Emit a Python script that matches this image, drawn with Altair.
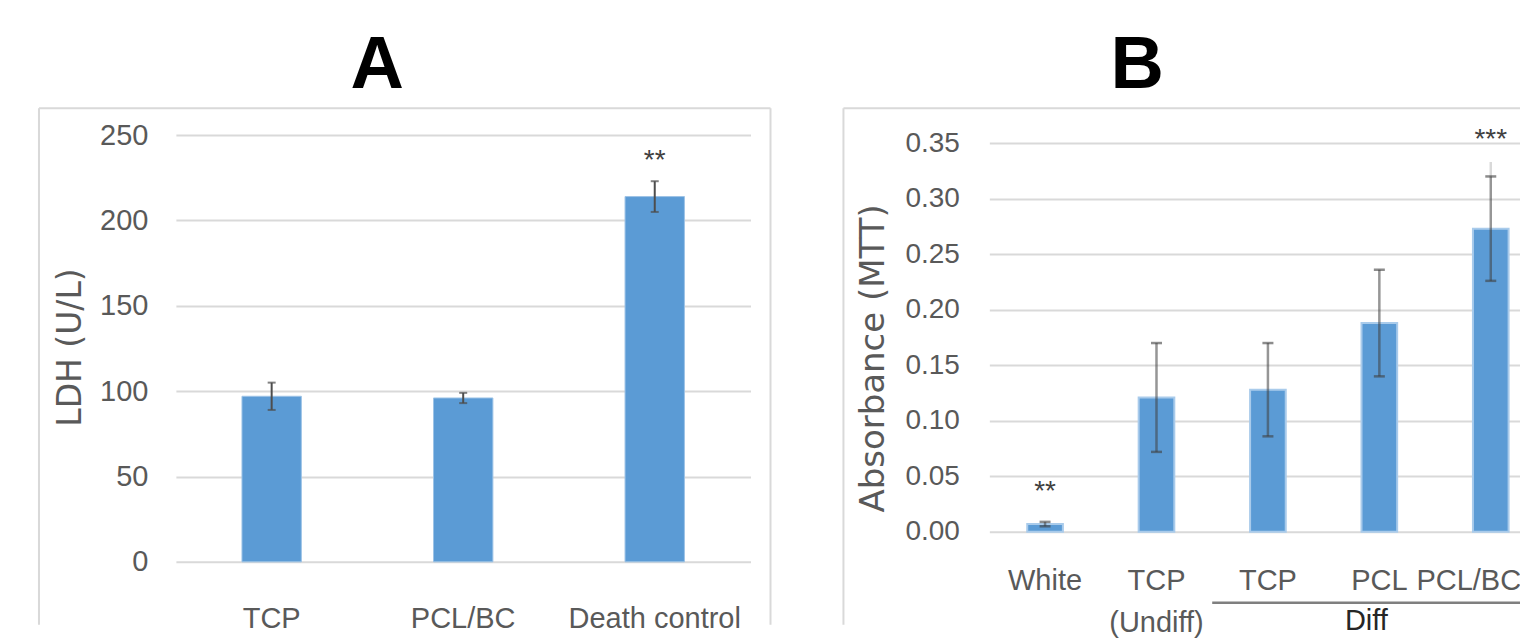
import altair as alt
import pandas as pd

# ---------------- data ----------------
# Panel A: LDH release
a_cats = ["TCP", "PCL/BC", "Death control"]
a_vals = [97, 96, 214]
a_err = [8, 3, 9]
a_sig_cats = ["Death control"]
a_sig_text = ["**"]
a_sig_pos = [235]

# Panel B: MTT absorbance
b_cats = ["White", "TCP (Undiff)", "TCP", "PCL", "PCL/BC"]
b_vals = [0.007, 0.121, 0.128, 0.188, 0.273]
b_err = [0.002, 0.049, 0.042, 0.048, 0.047]
b_sig_cats = ["White", "PCL/BC"]
b_sig_text = ["**", "***"]
b_sig_pos = [0.036, 0.353]
b_ghost_cat = ["PCL/BC"]
b_ghost_lo = [0.320]
b_ghost_hi = [0.333]

BLUE = "#5B9BD5"
GRID = "#d9d9d9"
TXT = "#595959"
LABEL_FONT = "Liberation Sans"
TITLE_FONT = "DejaVu Sans"

dfA = pd.DataFrame({"cat": a_cats, "val": a_vals,
                    "lo": [v - e for v, e in zip(a_vals, a_err)],
                    "hi": [v + e for v, e in zip(a_vals, a_err)]})
dfAs = pd.DataFrame({"cat": a_sig_cats, "txt": a_sig_text, "pos": a_sig_pos})
dfB = pd.DataFrame({"cat": b_cats, "val": b_vals,
                    "lo": [v - e for v, e in zip(b_vals, b_err)],
                    "hi": [v + e for v, e in zip(b_vals, b_err)]})
dfBs = pd.DataFrame({"cat": b_sig_cats, "txt": b_sig_text, "pos": b_sig_pos})
dfBg = pd.DataFrame({"cat": b_ghost_cat, "lo": b_ghost_lo, "hi": b_ghost_hi})
dfBd = pd.DataFrame({"cat": ["TCP"]})
dfPCL = pd.DataFrame({"cat": ["PCL"], "lbl": ["Diff"]})
one = pd.DataFrame({"d": [0]})

frame_kw = dict(color=GRID, strokeWidth=2)

# ---------------- panel A ----------------
WA, HA = 575, 427
xA_scale = alt.Scale(domain=a_cats, paddingInner=0, paddingOuter=0)
yA_scale = alt.Scale(domain=[0, 250], nice=False)
xA_axis = alt.Axis(labelAngle=0, domain=False, ticks=False, labelLimit=400,
                   labelFont=LABEL_FONT, labelFontSize=29, labelColor=TXT,
                   labelPadding=43)
yA_axis = alt.Axis(values=[0, 50, 100, 150, 200, 250], domain=False, ticks=False,
                   grid=True, gridColor=GRID, gridWidth=2,
                   labelFont=LABEL_FONT, labelFontSize=29, labelColor=TXT,
                   labelPadding=28, titleFont=TITLE_FONT, titleFontSize=33,
                   titleColor=TXT, titleFontWeight="normal",
                   titleX=-105, titleY=212, titleBaseline="middle")


def xa():
    return alt.X("cat:N", sort=a_cats, scale=xA_scale, axis=xA_axis, title=None)


def ya(field):
    return alt.Y(field, scale=yA_scale, axis=yA_axis, title="LDH (U/L)")


barsA = alt.Chart(dfA).mark_bar(color=BLUE, width=alt.RelativeBandSize(0.31),
                                stroke="#9dc3e6", strokeWidth=1).encode(x=xa(), y=ya("val:Q"))
errA = alt.Chart(dfA).mark_rule(color="#4d4d4d", strokeWidth=2).encode(
    x=xa(), y=ya("lo:Q"), y2="hi:Q")
capLoA = alt.Chart(dfA).mark_tick(color="#4d4d4d", size=8, thickness=2).encode(
    x=xa(), y=ya("lo:Q"))
capHiA = alt.Chart(dfA).mark_tick(color="#4d4d4d", size=8, thickness=2).encode(
    x=xa(), y=ya("hi:Q"))
sigA = alt.Chart(dfAs).mark_text(font="Liberation Sans", fontSize=28, color="#404040",
                                 baseline="middle").encode(
    x=xa(), y=ya("pos:Q"), text="txt:N")
frameA = (
    alt.Chart(one).mark_rule(**frame_kw).encode(x=alt.value(-137), y=alt.value(-27), y2=alt.value(490))
    + alt.Chart(one).mark_rule(**frame_kw).encode(x=alt.value(-137), x2=alt.value(595), y=alt.value(-27))
    + alt.Chart(one).mark_rule(**frame_kw).encode(x=alt.value(595), y=alt.value(-27), y2=alt.value(490))
)

panelA = alt.layer(barsA, errA, capLoA, capHiA, sigA, frameA).properties(
    width=WA, height=HA,
    title=alt.TitleParams("A", font="Liberation Sans", fontSize=74, fontWeight="bold",
                          color="black", anchor="middle", frame="group", dx=-86, offset=3))

# ---------------- panel B ----------------
WB, HB = 532, 397
xB_scale = alt.Scale(domain=b_cats, paddingInner=0, paddingOuter=0, range=[0, 557.5])
yB_scale = alt.Scale(domain=[0, 0.35], nice=False, range=[397, 8])
xB_axis = alt.Axis(labelAngle=0, domain=False, ticks=False, labelLimit=400,
                   labelFont=LABEL_FONT, labelFontSize=29, labelColor=TXT,
                   labelPadding=35, labelLineHeight=42,
                   labelOffset={"condition": {"test": "datum.value == 'PCL/BC'", "value": -22},
                                "value": 0},
                   labelExpr="datum.value == 'TCP (Undiff)' ? ['TCP', '(Undiff)'] : datum.value")
yB_axis = alt.Axis(values=[0, 0.05, 0.10, 0.15, 0.20, 0.25, 0.30, 0.35], format=".2f",
                   domain=False, ticks=False,
                   grid=True, gridColor=GRID, gridWidth=2,
                   labelFont=LABEL_FONT, labelFontSize=28, labelColor=TXT,
                   labelPadding=30, titleFont=TITLE_FONT, titleFontSize=34,
                   titleColor=TXT, titleFontWeight="normal",
                   titleX=-116, titleY=223, titleBaseline="middle")


def xb():
    return alt.X("cat:N", sort=b_cats, scale=xB_scale, axis=xB_axis, title=None)


def yb(field):
    return alt.Y(field, scale=yB_scale, axis=yB_axis, title="Absorbance (MTT)")


barsB = alt.Chart(dfB).mark_bar(color=BLUE, width=alt.RelativeBandSize(0.32),
                                stroke="#a9cbeb", strokeWidth=2).encode(x=xb(), y=yb("val:Q"))
errB = alt.Chart(dfB).mark_rule(color="#404040", strokeWidth=2.5, opacity=0.55).encode(
    x=xb(), y=yb("lo:Q"), y2="hi:Q")
capLoB = alt.Chart(dfB).mark_tick(color="#404040", size=11, thickness=2.5, opacity=0.6).encode(
    x=xb(), y=yb("lo:Q"))
capHiB = alt.Chart(dfB).mark_tick(color="#404040", size=11, thickness=2.5, opacity=0.6).encode(
    x=xb(), y=yb("hi:Q"))
ghostB = alt.Chart(dfBg).mark_rule(color="#404040", strokeWidth=2.5, opacity=0.2).encode(
    x=xb(), y=yb("lo:Q"), y2="hi:Q")
sigB = alt.Chart(dfBs).mark_text(font="Liberation Sans", fontSize=28, color="#404040",
                                 baseline="middle").encode(
    x=xb(), y=yb("pos:Q"), text="txt:N")
bracketB = alt.Chart(dfBd).mark_rule(color="#7f7f7f", strokeWidth=2.5).encode(
    x=alt.X("cat:N", sort=b_cats, scale=xB_scale, axis=xB_axis, title=None, bandPosition=0),
    x2=alt.value(WB + 20), y=alt.value(468))
diffB = alt.Chart(dfPCL).mark_text(font=LABEL_FONT, fontSize=29, color="#262626",
                                   baseline="middle", dx=-13).encode(
    x=xb(), y=alt.value(486), text="lbl:N")
frameB = (
    alt.Chart(one).mark_rule(**frame_kw).encode(x=alt.value(-146), y=alt.value(-27), y2=alt.value(490))
    + alt.Chart(one).mark_rule(**frame_kw).encode(x=alt.value(-146), x2=alt.value(WB + 20), y=alt.value(-27))
)

panelB = alt.layer(barsB, errB, capLoB, capHiB, ghostB, sigB, bracketB, diffB, frameB).properties(
    width=WB, height=HB,
    title=alt.TitleParams("B", font="Liberation Sans", fontSize=74, fontWeight="bold",
                          color="black", anchor="middle", frame="group", dx=-118, offset=3))

chart = alt.hconcat(panelA, panelB, spacing=71).properties(
    padding={"left": 30, "top": 21, "right": -27, "bottom": 0}
).configure_view(stroke=None)

chart.save("out.html", embed_options={"renderer": "svg", "actions": False})
